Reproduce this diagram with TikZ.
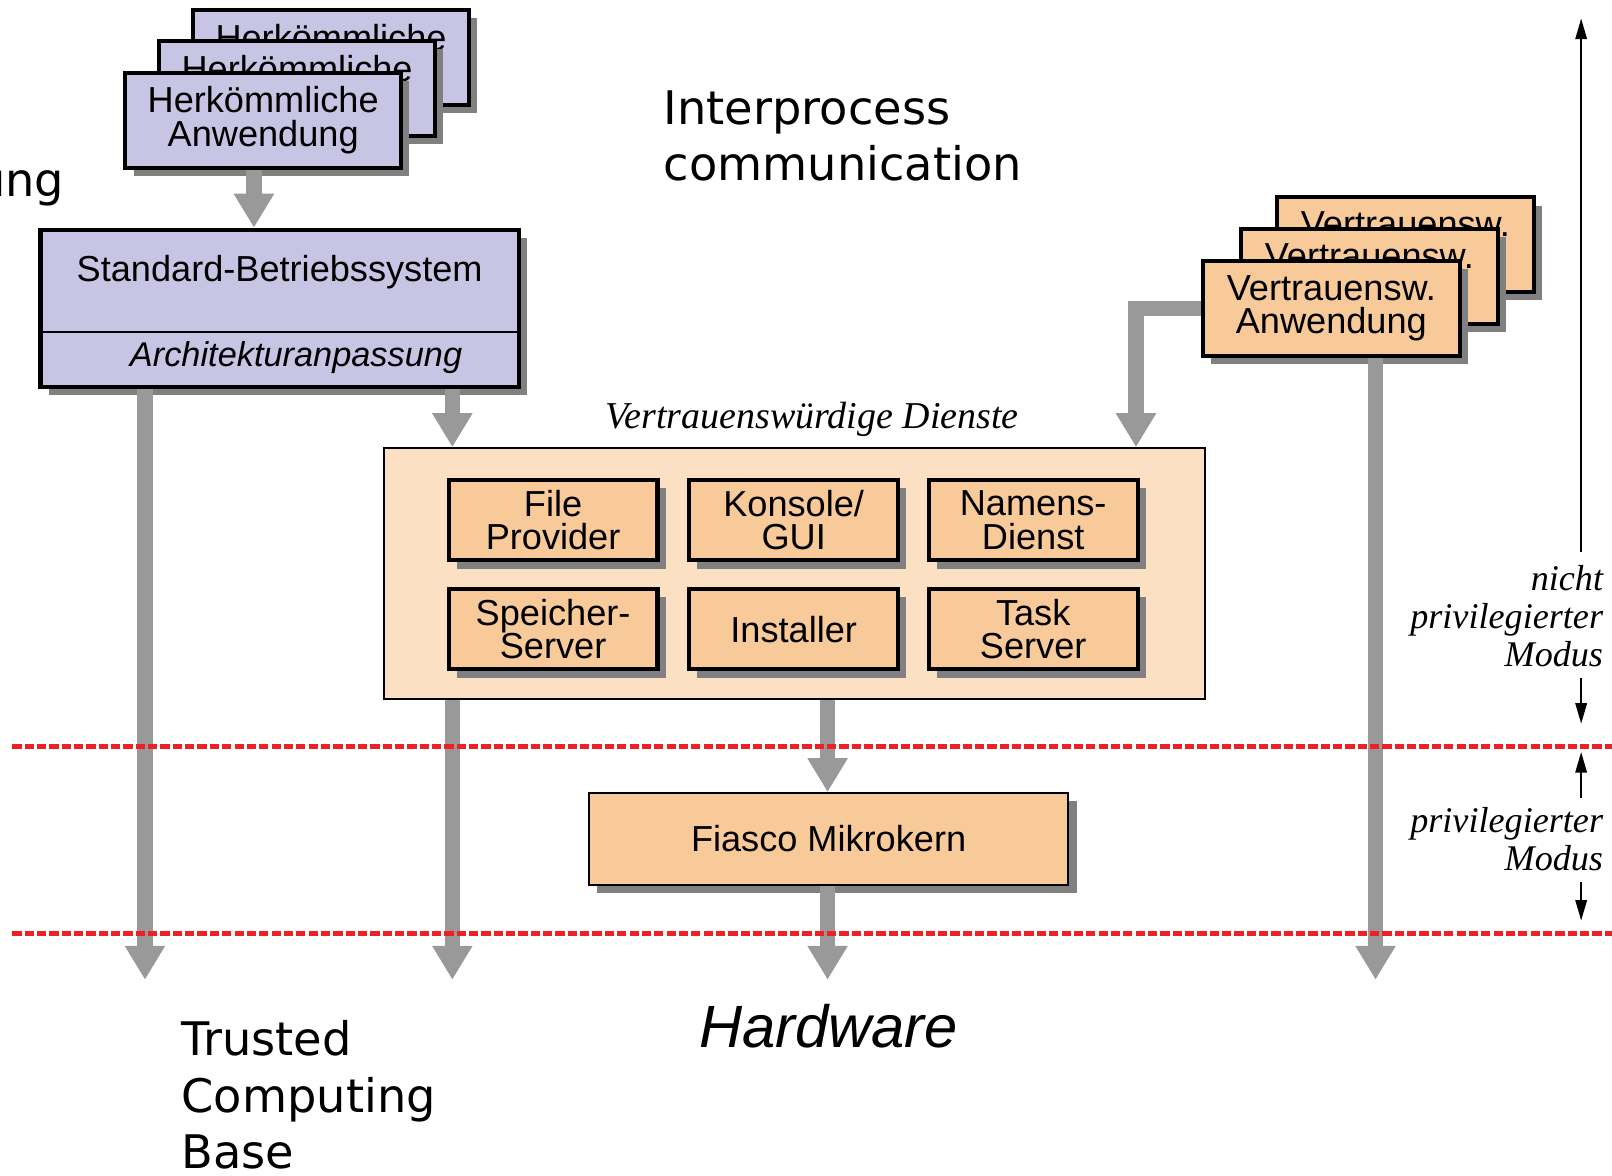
\documentclass[tikz,border=0pt]{standalone}
\usepackage{fontspec}
\setmainfont{Liberation Sans}
\newfontfamily\dejavu{DejaVu Sans}
\newfontfamily\timesfont{Liberation Serif}
\usetikzlibrary{arrows.meta,shadows,positioning}
\newcommand{\boxfont}{\fontsize{10pt}{9.2pt}\selectfont\lineskiplimit=-5pt\relax}
\tikzset{
  box/.style={
    draw=black,
    line width=0.4mm,
    align=center,
    inner sep=0pt,
    font=\boxfont,
    drop shadow={shadow xshift=0.8mm, shadow yshift=-0.8mm, fill=shadowgray, opacity=1}
  },
  box-purple/.style={box, fill=boxpurple, minimum width=2.68cm, minimum height=0.92cm},
  box-app/.style={box, fill=boxorange, minimum width=2.5cm, minimum height=0.92cm},
  box-service/.style={box, fill=boxorange, minimum width=2.03cm, minimum height=0.78cm},
  thin-box/.style={box, line width=0.2mm},
  arrow-gray/.style={draw=arrowgray, line width=0.15cm, -{Triangle[width=0.37cm,length=0.33cm]}},
  arrow-legend/.style={draw=black, line width=0.6pt, -{Triangle[width=0.11cm,length=0.2cm]}},
  mode-line/.style={draw=modered, line width=0.45mm, dash pattern=on 0.09cm off 0.03cm},
  big-text/.style={anchor=west, align=left, inner sep=0pt, font=\dejavu\fontsize{12.8pt}{15.6pt}\selectfont},
  legend-text/.style={anchor=east, align=right, inner sep=0pt, font=\timesfont\itshape\fontsize{10pt}{10.5pt}\selectfont}
}
\definecolor{boxpurple}{RGB}{200,197,228}
\definecolor{boxorange}{RGB}{248,201,153}
\definecolor{boxpeach}{RGB}{251,224,196}
\definecolor{arrowgray}{RGB}{153,153,153}
\definecolor{shadowgray}{RGB}{128,128,128}
\definecolor{modered}{RGB}{237,32,36}

\begin{document}
\begin{tikzpicture}[x=0.01cm, y=-0.01cm]
  \useasboundingbox (0,0) rectangle (1568,1143);
  % columns of the gray arrows
  \coordinate (colH) at (247,0);
  \coordinate (colA) at (141,0);
  \coordinate (colB) at (440,0);
  \coordinate (colC) at (805,0);
  \coordinate (colD) at (1105,0);
  \coordinate (colE) at (1338,0);
  \coordinate (hw) at (0,953);
  % Legacy applications (back to front)
  \node[box-purple] (herk3) at (322,56)  {Herkömmliche\\Anwendung};
  \node[box-purple] (herk2) at (289,86)  {Herkömmliche\\Anwendung};
  \node[box-purple] (herk1) at (256,117) {Herkömmliche\\Anwendung};
  % Standard OS
  \node[box-purple, minimum width=4.65cm, minimum height=1.53cm] (os) at (272,300) {};
  \node[font=\fontsize{10pt}{12pt}\selectfont] (os-title) at (272,265) {Standard-Betriebssystem};
  \node[font=\fontsize{9.5pt}{12pt}\selectfont\itshape] (os-arch) at (288,348) {Architekturanpassung};
  \coordinate (os-div) at (272,323);
  \draw[line width=0.25mm] (os.west |- os-div) -- (os.east |- os-div);
  \node[big-text, anchor=east] (ung) at (63,183) {ung};
  % Trusted applications (back to front)
  \node[box-app] (vt3) at (1367,238) {Vertrauensw.\\Anwendung};
  \node[box-app] (vt2) at (1332,269) {Vertrauensw.\\Anwendung};
  \node[box-app] (vt1) at (1295,300) {Vertrauensw.\\Anwendung};
  % Trusted services
  \node[draw=black, line width=0.2mm, fill=boxpeach, minimum width=7.98cm, minimum height=2.44cm] (dienst) at (773,558) {};
  \node[font=\timesfont\itshape\fontsize{10.5pt}{12pt}\selectfont] (dienst-title) at (790,408) {Vertrauenswürdige Dienste};
  % Row 1
  \node[box-service] (file)    at (538,506)  {File\\Provider};
  \node[box-service] (konsole) at (772,506)  {Konsole/\\GUI};
  \node[box-service] (namens)  at (1005,506) {Namens-\\Dienst};
  % Row 2
  \node[box-service] (speicher)  at (538,612)  {Speicher-\\Server};
  \node[box-service] (installer) at (772,612)  {Installer};
  \node[box-service] (task)      at (1005,612) {Task\\Server};
  % Microkernel
  \node[thin-box, fill=boxorange, minimum width=4.66cm, minimum height=0.89cm] (fiasco) at (806,816) {Fiasco Mikrokern};
  \node[font=\fontsize{16.5pt}{18pt}\selectfont\itshape] (hardware) at (806,998) {Hardware};
  % Labels
  \node[big-text] (ipc) at (645,132) {Interprocess\\communication};
  \node[big-text] (tcb) at (176,1065) {Trusted\\Computing\\Base};
  % Gray arrows
  \draw[arrow-gray] (herk1.south -| colH) -- (os.north -| colH);
  \draw[arrow-gray] (os.south -| colA) -- (hw -| colA);
  \draw[arrow-gray] (os.south -| colB) -- (dienst.north -| colB);
  \draw[arrow-gray] (dienst.south -| colB) -- (hw -| colB);
  \draw[arrow-gray] (dienst.south -| colC) -- (fiasco.north -| colC);
  \draw[arrow-gray] (fiasco.south -| colC) -- (hw -| colC);
  \draw[arrow-gray] (vt1.west) -| (dienst.north -| colD);
  \draw[arrow-gray] (vt1.south -| colE) -- (hw -| colE);
  % Mode borders
  \draw[mode-line] (12,726) -- (1568,726);
  \draw[mode-line] (12,908) -- (1568,908);
  % Legend
  \coordinate (legX) at (1538,0);
  \coordinate (legtop) at (1538,18);
  \node[legend-text] (nonpriv) at (1560,599) {nicht\\privilegierter\\Modus};
  \node[legend-text] (priv) at (1560,816) {privilegierter\\Modus};
  \draw[arrow-legend] (nonpriv.north -| legX) ++(0,-12) -- (legtop);
  \draw[arrow-legend] (nonpriv.south -| legX) ++(0,10) -- ++(0,45);
  \draw[arrow-legend] (priv.north -| legX) ++(0,-8) -- ++(0,-45);
  \draw[arrow-legend] (priv.south -| legX) ++(0,10) -- ++(0,38);
\end{tikzpicture}
\end{document}
